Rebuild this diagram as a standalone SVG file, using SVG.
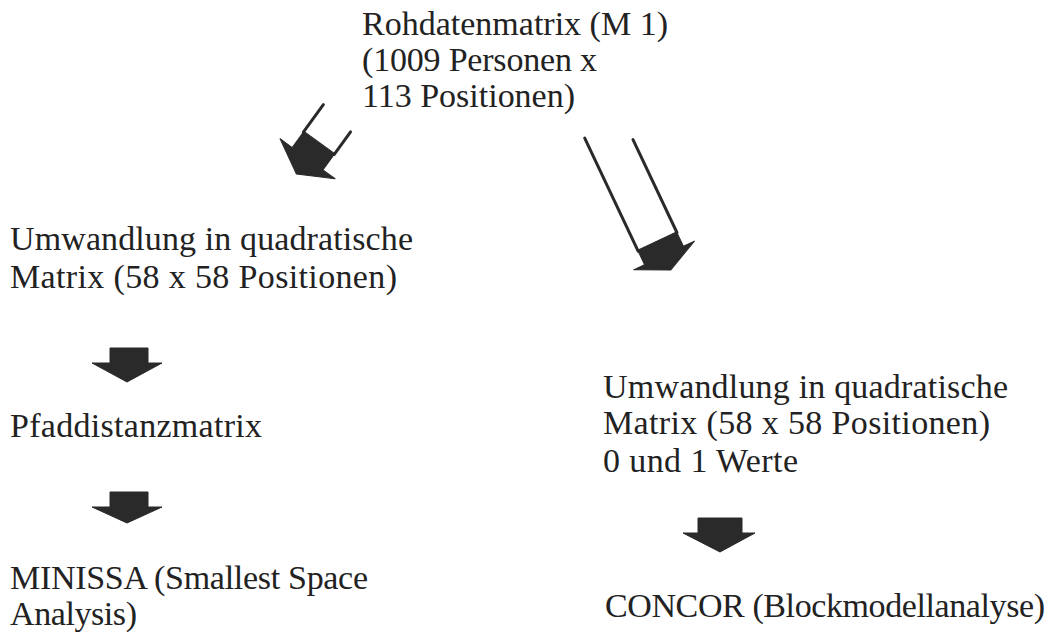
<svg xmlns="http://www.w3.org/2000/svg" width="1052" height="634" viewBox="0 0 1052 634">
<style>
text{font-family:"Liberation Serif","Times New Roman",serif;font-size:34px;fill:#222}
.arr{fill:#2a2a2a;stroke:#2a2a2a;stroke-width:1;stroke-linejoin:round}
.shaft{stroke:#2a2a2a;stroke-width:3;fill:none;stroke-linecap:round}
</style>
<rect width="1052" height="634" fill="#fff"/>
<g id="n-rohdaten">
<text x="362" y="35" textLength="306" lengthAdjust="spacing">Rohdatenmatrix (M 1)</text>
<text x="362" y="71" textLength="235" lengthAdjust="spacing">(1009 Personen x</text>
<text x="362" y="107" textLength="213" lengthAdjust="spacing">113 Positionen)</text>
</g>
<g id="n-umw-left">
<text x="10" y="250" textLength="403" lengthAdjust="spacing">Umwandlung in quadratische</text>
<text x="10" y="288" textLength="387" lengthAdjust="spacing">Matrix (58 x 58 Positionen)</text>
</g>
<g id="n-pfad">
<text x="10" y="437" textLength="252" lengthAdjust="spacing">Pfaddistanzmatrix</text>
</g>
<g id="n-minissa">
<text x="10" y="589" textLength="358" lengthAdjust="spacing">MINISSA (Smallest Space</text>
<text x="10" y="625" textLength="127" lengthAdjust="spacing">Analysis)</text>
</g>
<g id="n-umw-right">
<text x="603" y="398" textLength="405" lengthAdjust="spacing">Umwandlung in quadratische</text>
<text x="603" y="434" textLength="387" lengthAdjust="spacing">Matrix (58 x 58 Positionen)</text>
<text x="603" y="472" textLength="195" lengthAdjust="spacing">0 und 1 Werte</text>
</g>
<g id="n-concor">
<text x="605" y="617" textLength="440" lengthAdjust="spacing">CONCOR (Blockmodellanalyse)</text>
</g>
<g id="connectors">
<g id="c-left-diag" transform="translate(277,200.8) rotate(36)">
<line class="shaft" x1="-19" y1="-105" x2="-19" y2="-71"/>
<line class="shaft" x1="19" y1="-99" x2="19" y2="-71"/>
<polygon class="arr" points="-19,-72 19,-72 19,-52 34,-52 0,-33 -34,-52 -19,-52"/>
</g>
<g id="c-right-diag" transform="translate(443.9,-210.1) rotate(-25.3)">
<line class="shaft" x1="-21.5" y1="375" x2="-21.5" y2="500"/>
<line class="shaft" x1="21.5" y1="397" x2="21.5" y2="500"/>
<polygon class="arr" points="-21.5,499 21.5,499 21.5,515 33.6,515 0,531 -33.6,515 -21.5,515"/>
</g>
<polygon id="c-left-1" class="arr" points="110,348 148,348 148,363 162,363 127,382 92,363 110,363"/>
<polygon id="c-left-2" class="arr" points="110,492 148,492 148,507 162,507 127,523 92,507 110,507"/>
<polygon id="c-right-1" class="arr" points="698,518 742,518 742,533 755,533 720,552 683,533 698,533"/>
</g>
</svg>
